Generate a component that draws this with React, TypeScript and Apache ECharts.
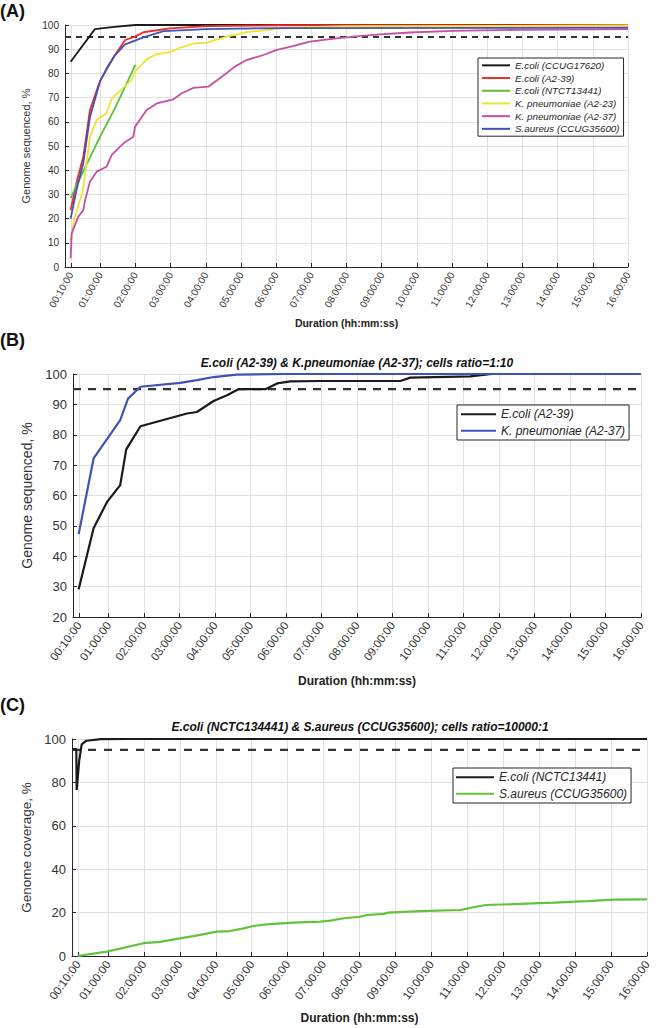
import React, { useEffect, useRef } from "react";
import * as echarts from "echarts";

// ---------- tick values (hours) ----------
const TICK_HOURS = [10 / 60, 1, 2, 3, 4, 5, 6, 7, 8, 9, 10, 11, 12, 13, 14, 15, 16];

// ---------- Panel A (hours, % genome sequenced) ----------
const A_ECOLI_CCUG17620 = [[0.16, 84.8], [0.85, 98.3], [1.4, 99.2], [2.0, 100], [16, 100]];
const A_ECOLI_A2_39 = [[0.16, 23.5], [0.33, 35], [0.52, 45.6], [0.71, 64.9], [0.97, 75.9], [1.2, 82.5], [1.42, 87.6], [1.71, 93.8], [1.99, 95.2], [2.23, 97], [2.98, 98.6], [4.0, 99.5], [6, 99.9], [16, 100]];
const A_ECOLI_NTCT13441 = [[0.16, 28.5], [0.6, 42], [1.0, 54], [1.4, 65], [1.66, 73], [2.0, 83.5]];
const A_KPN_A2_23 = [[0.16, 11], [0.28, 20.8], [0.5, 31], [0.71, 53.8], [0.9, 60.7], [1.18, 63.5], [1.33, 69.7], [1.9, 77.3], [1.99, 80.7], [2.32, 85.8], [2.61, 88], [2.98, 88.8], [3.27, 90.6], [3.65, 92.3], [4.03, 92.7], [4.6, 95.2], [5.16, 97.1], [5.73, 97.9], [6.39, 98.9], [8, 99.5], [16, 99.8]];
const A_KPN_A2_37 = [[0.16, 3.6], [0.19, 13.9], [0.38, 20.8], [0.52, 23.5], [0.57, 27.5], [0.71, 35.3], [0.9, 39.4], [1.18, 41.4], [1.33, 46.3], [1.66, 51.1], [1.94, 53.8], [1.99, 58], [2.32, 64.9], [2.61, 67.6], [3.08, 69.3], [3.32, 71.8], [3.65, 74], [4.07, 74.5], [4.4, 78], [4.83, 82.8], [5.16, 85.5], [5.64, 87.6], [6.02, 89.7], [6.39, 91], [6.96, 93.1], [7.53, 94.2], [8.19, 95.2], [8.95, 96.1], [9.8, 96.9], [11.03, 97.6], [12.9, 98], [16, 98.3]];
const A_SAUREUS_CCUG35600 = [[0.16, 20], [0.33, 32], [0.52, 43], [0.71, 62], [1.0, 77], [1.42, 87.6], [1.71, 92], [2.23, 94.9], [2.8, 97.5], [4.0, 98.3], [6, 98.7], [16, 98.9]];

// ---------- Panel B ----------
const B_ECOLI_A2_39 = [[0.16, 29.1], [0.58, 49.2], [0.96, 57.9], [1.33, 63.4], [1.5, 75.2], [1.9, 82.8], [3.21, 87], [3.49, 87.5], [3.96, 91.1], [4.34, 93], [4.66, 95], [5.42, 95], [5.75, 96.9], [6.12, 97.6], [6.97, 97.7], [9.22, 97.7], [9.5, 98.8], [11.19, 99.2], [11.8, 100], [16, 100]];
const B_KPN_A2_37 = [[0.16, 47.3], [0.58, 72.2], [1.33, 84.8], [1.55, 91.9], [1.9, 95.8], [3.02, 97.1], [3.49, 98], [3.96, 99], [4.62, 99.8], [6, 100], [16, 100]];

// ---------- Panel C (% genome coverage) ----------
const C_ECOLI_NCTC13441 = [[0, 95.4], [0.12, 95.4], [0.13, 76.5], [0.2, 90], [0.27, 97.5], [0.4, 99.2], [0.8, 99.9], [1.5, 100], [16, 100]];
const C_SAUREUS_CCUG35600 = [[0.15, 0], [0.97, 2.0], [1.99, 5.9], [2.45, 6.5], [3.01, 8.1], [3.57, 9.7], [4.03, 11.2], [4.4, 11.5], [4.77, 12.7], [5.05, 13.8], [5.42, 14.6], [6.16, 15.4], [6.91, 15.8], [7.19, 16.3], [7.56, 17.4], [8.02, 18.1], [8.21, 18.9], [8.67, 19.4], [8.81, 20], [9.69, 20.7], [10.81, 21.2], [11.24, 22.7], [11.52, 23.5], [12.48, 24], [13.41, 24.6], [14.34, 25.3], [15.08, 26], [16, 26.1]];

const THRESHOLD = [[0, 95], [16, 95]];

const FONT = "'Liberation Sans', Arial, Helvetica, sans-serif";

const pad = (n: number) => (n < 10 ? "0" + n : "" + n);
const fmtHours = (v: number) => {
  const m = Math.round(v * 60);
  return pad(Math.floor(m / 60)) + ":" + pad(m % 60) + ":00";
};

function xAxis(gridIndex: number, fontSize: number, rotate: number, nameGap: number, nameSize: number) {
  return {
    type: "value",
    gridIndex,
    min: 0,
    max: 16,
    name: "Duration (hh:mm:ss)",
    nameLocation: "middle",
    nameGap,
    nameTextStyle: { fontFamily: FONT, fontWeight: "bold", fontSize: nameSize, color: "#222" },
    axisLine: { show: true, onZero: false, lineStyle: { color: "#262626", width: 1 } },
    axisTick: { show: true, inside: true, length: 4, customValues: TICK_HOURS, lineStyle: { color: "#262626" } },
    axisLabel: {
      customValues: TICK_HOURS,
      rotate,
      fontFamily: FONT,
      fontSize,
      color: "#333",
      margin: 6,
      formatter: fmtHours,
    },
    splitLine: { show: true, lineStyle: { color: "#e0e0e0", width: 1 } },
  };
}

function yAxis(gridIndex: number, min: number, interval: number, name: string, fontSize: number, nameSize: number, nameGap: number) {
  return {
    type: "value",
    gridIndex,
    min,
    max: 100,
    interval,
    name,
    nameLocation: "middle",
    nameGap,
    nameTextStyle: { fontFamily: FONT, fontSize: nameSize, color: "#333" },
    axisLine: { show: true, lineStyle: { color: "#262626", width: 1 } },
    axisTick: { show: true, inside: true, length: 4, lineStyle: { color: "#262626" } },
    axisLabel: { fontFamily: FONT, fontSize, color: "#333", margin: 6 },
    splitLine: { show: true, lineStyle: { color: "#e0e0e0", width: 1 } },
  };
}

function line(name: string, idx: number, data: number[][], color: string, width: number) {
  return {
    type: "line",
    name,
    xAxisIndex: idx,
    yAxisIndex: idx,
    data,
    symbol: "none",
    showSymbol: false,
    silent: true,
    color,
    itemStyle: { color },
    lineStyle: { color, width },
    z: 3,
  };
}

function dashed(idx: number, width: number, dash: number[]) {
  return {
    type: "line",
    name: "threshold-" + idx,
    xAxisIndex: idx,
    yAxisIndex: idx,
    data: THRESHOLD,
    symbol: "none",
    silent: true,
    lineStyle: { color: "#333", width, type: dash },
    z: 2,
  };
}

function legend(data: string[], left: number, top: number, fontSize: number, lineHeight: number, itemWidth: number, padding: number[]) {
  return {
    orient: "vertical",
    left,
    top,
    data,
    icon: "rect",
    itemWidth,
    itemHeight: 2,
    itemGap: 0,
    padding,
    selectedMode: false,
    borderColor: "#262626",
    borderWidth: 1,
    backgroundColor: "#fff",
    formatter: (n: string) => n.split("|")[1],
    textStyle: { fontFamily: FONT, fontStyle: "italic", fontSize, lineHeight, color: "#262626" },
  };
}

const BLACK = "#1a1a1a";

export default function App() {
  const ref = useRef<HTMLDivElement>(null);
  useEffect(() => {
    if (!ref.current) return;
    const chart = echarts.init(ref.current, null, { renderer: "svg" });
    const option = {
      animation: false,
      backgroundColor: "#fff",
      grid: [
        { left: 65, top: 25, width: 563, height: 242 },
        { left: 73, top: 374, width: 568, height: 243 },
        { left: 72, top: 739, width: 575, height: 217 },
      ],
      xAxis: [xAxis(0, 10, 60, 50, 10.5), xAxis(1, 11.5, 54, 58, 12), xAxis(2, 11.5, 54, 56, 12)],
      yAxis: [
        yAxis(0, 0, 10, "Genome sequenced, %", 10, 11, 26),
        yAxis(1, 20, 10, "Genome sequenced, %", 13, 14, 31),
        yAxis(2, 0, 20, "Genome coverage, %", 13, 13.5, 32),
      ],
      legend: [
        legend(["A|E.coli (CCUG17620)", "A|E.coli (A2-39)", "A|E.coli (NTCT13441)", "A|K. pneumoniae (A2-23)", "A|K. pneumoniae (A2-37)", "A|S.aureus (CCUG35600)"], 478, 58, 9.8, 12.7, 28, [1, 4, 1, 4]),
        legend(["B|E.coli (A2-39)", "B|K. pneumoniae (A2-37)"], 457, 405, 12, 16.5, 35, [1, 4, 1, 4]),
        legend(["C|E.coli (NCTC13441)", "C|S.aureus (CCUG35600)"], 453, 768, 12, 16.5, 38, [1, 4, 1, 3]),
      ],
      series: [
        dashed(0, 2, [6, 5]),
        line("A|E.coli (CCUG17620)", 0, A_ECOLI_CCUG17620, BLACK, 1.8),
        line("A|E.coli (A2-39)", 0, A_ECOLI_A2_39, "#ee2a24", 1.8),
        line("A|E.coli (NTCT13441)", 0, A_ECOLI_NTCT13441, "#5cbf3c", 1.8),
        line("A|K. pneumoniae (A2-23)", 0, A_KPN_A2_23, "#f0e232", 1.8),
        line("A|K. pneumoniae (A2-37)", 0, A_KPN_A2_37, "#c54fa3", 1.8),
        line("A|S.aureus (CCUG35600)", 0, A_SAUREUS_CCUG35600, "#3f53b5", 1.8),
        dashed(1, 2.2, [8, 7]),
        line("B|E.coli (A2-39)", 1, B_ECOLI_A2_39, BLACK, 2.2),
        line("B|K. pneumoniae (A2-37)", 1, B_KPN_A2_37, "#3f53b5", 2.2),
        dashed(2, 2.2, [8, 8]),
        line("C|E.coli (NCTC13441)", 2, C_ECOLI_NCTC13441, BLACK, 2.2),
        line("C|S.aureus (CCUG35600)", 2, C_SAUREUS_CCUG35600, "#62c23a", 2.2),
      ],
      graphic: [
        { type: "text", left: 0, top: 2, style: { text: "(A)", font: `bold 18px ${FONT}`, fill: "#111" } },
        { type: "text", left: 0, top: 331, style: { text: "(B)", font: `bold 18px ${FONT}`, fill: "#111" } },
        { type: "text", left: 0, top: 696, style: { text: "(C)", font: `bold 18px ${FONT}`, fill: "#111" } },
        {
          type: "text",
          x: 357,
          y: 363,
          style: { text: "E.coli (A2-39) & K.pneumoniae (A2-37); cells ratio=1:10", font: `italic bold 12px ${FONT}`, fill: "#111", align: "center", verticalAlign: "middle" },
        },
        {
          type: "text",
          x: 360,
          y: 727,
          style: { text: "E.coli (NCTC134441) & S.aureus (CCUG35600); cells ratio=10000:1", font: `italic bold 12px ${FONT}`, fill: "#111", align: "center", verticalAlign: "middle" },
        },
      ],
    };
    chart.setOption(option as any);
    return () => chart.dispose();
  }, []);
  return <div ref={ref} style={{ position: "fixed", left: 0, top: 0, width: 658, height: 1028 }} />;
}
